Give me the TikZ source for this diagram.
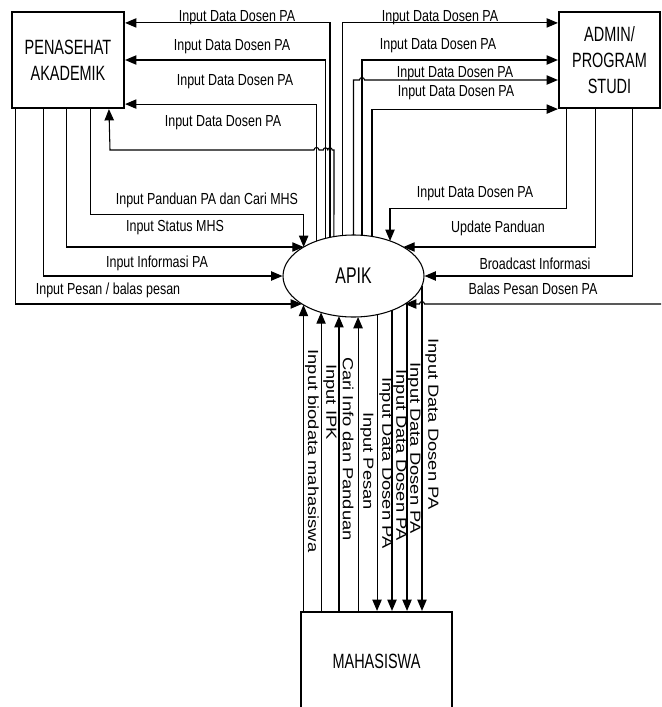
\documentclass[tikz,border=0pt]{standalone}
\usepackage{fontspec}
\setmainfont{Liberation Sans}
\newfontfamily\lblfont{Liberation Sans}[FakeStretch=0.78]
\newfontfamily\vlblfont{Liberation Sans}[FakeStretch=1.25]
\newfontfamily\entfont{Liberation Sans}[FakeStretch=0.7]
\usetikzlibrary{arrows.meta,shapes.geometric,calc}

\tikzset{
  entity/.style={draw,line width=1.6pt,minimum height=72pt,inner sep=0pt,align=center,font=\entfont\fontsize{15.5}{19.5}\selectfont},
  process/.style={ellipse,draw,line width=0.8pt,minimum width=105.75pt,minimum height=61.5pt,inner sep=0pt,font=\entfont\fontsize{17}{19}\selectfont},
  flow/.style={draw,line width=0.8pt,-{Triangle[length=8.5pt,width=7pt]}},
  hlabel/.style={inner sep=0pt,font=\lblfont\fontsize{12}{14}\selectfont},
  vlabel/.style={inner sep=0pt,rotate=-90,font=\vlblfont\fontsize{11}{13}\selectfont}
}

\begin{document}
\begin{tikzpicture}[x=0.75pt,y=0.75pt,yscale=-1,xscale=1]
\useasboundingbox (0,0) rectangle (661,707);

%Shape: Rectangle
\node[entity,minimum width=84pt] (pa) at (68,60) {PENASEHAT\\AKADEMIK};
%Shape: Rectangle
\node[entity,minimum width=75.75pt] (admin) at (609.5,60) {ADMIN/\\PROGRAM\\STUDI};
%Shape: Ellipse
\node[process] (apik) at (353.5,276) {APIK};
%Shape: Rectangle
\node[entity,minimum width=113.25pt,minimum height=73.5pt] (maha) at (376.5,661) {MAHASISWA};

% points on the ellipse
\coordinate (u1) at ($(apik.center)+(-121.7:70.5 and 41)$);
\coordinate (u2) at ($(apik.center)+(-113.4:70.5 and 41)$);
\coordinate (u3) at ($(apik.center)+(-109.5:70.5 and 41)$);
\coordinate (u4) at ($(apik.center)+(-106.1:70.5 and 41)$);
\coordinate (u5) at ($(apik.center)+(-98.6:70.5 and 41)$);
\coordinate (u6) at ($(apik.center)+(-90:70.5 and 41)$);
\coordinate (u7) at ($(apik.center)+(-83.1:70.5 and 41)$);
\coordinate (u8) at ($(apik.center)+(-74.8:70.5 and 41)$);
\coordinate (l1) at ($(apik.center)+(-135:70.5 and 41)$);
\coordinate (l4) at ($(apik.center)+(137:70.5 and 41)$);
\coordinate (r1) at ($(apik.center)+(-58.8:70.5 and 41)$);
\coordinate (r2) at ($(apik.center)+(-45:70.5 and 41)$);
\coordinate (r4) at ($(apik.center)+(43.1:70.5 and 41)$);
\coordinate (d1) at ($(apik.center)+(135.2:70.5 and 41)$);
\coordinate (d2) at ($(apik.center)+(117.4:70.5 and 41)$);
\coordinate (d3) at ($(apik.center)+(101.9:70.5 and 41)$);
\coordinate (d4) at ($(apik.center)+(86.3:70.5 and 41)$);
\coordinate (d5) at ($(apik.center)+(70.5:70.5 and 41)$);
\coordinate (d6) at ($(apik.center)+(56.9:70.5 and 41)$);
\coordinate (d7) at ($(apik.center)+(40.6:70.5 and 41)$);
\coordinate (d8) at ($(apik.center)+(13.7:70.5 and 41)$);
\coordinate (balas) at (661,304);

%Straight Lines - APIK to penasehat
\draw[flow] (u1) |- ($(pa.south east)+(0,-5)$);
\draw[flow] (u2) |- (pa.east);
\draw[flow] (u3) |- ($(pa.north east)+(0,12)$);
\draw[flow] (u4) -- (334,150) -- (332.2,150) arc[start angle=0,end angle=-180,radius=2.2] -- (327.7,150) arc[start angle=0,end angle=-180,radius=2.2] -- (319,150) arc[start angle=0,end angle=-180,radius=2.5] -- (110,150) -- ($(pa.south west)+(98,0)$);
%Straight Lines - APIK to admin
\draw[flow] (u5) |- ($(admin.north west)+(0,12)$);
\draw[flow] (u6) -- (353.5,80) -- (359.5,80) arc[start angle=180,end angle=360,radius=2.5] -- ($(admin.west)+(0,20)$);
\draw[flow] (u7) |- (admin.west);
\draw[flow] (u8) |- (admin.south west);
%Straight Lines - penasehat to APIK
\draw[flow] ($(pa.south west)+(80,0)$) -- ++(0,105) -| (l1);
\draw[flow] ($(pa.south west)+(56,0)$) |- (l1);
\draw[flow] ($(pa.south west)+(33,0)$) |- (apik.west);
\draw[flow] ($(pa.south west)+(5,0)$) |- (l4);
%Straight Lines - admin to APIK
\draw[flow] ($(admin.south west)+(9,0)$) -- ++(0,99) -| (r1);
\draw[flow] ($(admin.south west)+(38,0)$) |- (r2);
\draw[flow] ($(admin.south west)+(75,0)$) |- (apik.east);
\draw[flow] (balas) -- (424.5,304) arc[start angle=0,end angle=-180,radius=2.5] -- (r4);
%Straight Lines - mahasiswa and APIK
\draw[flow] (d1 |- maha.north) -- (d1);
\draw[flow] (d2 |- maha.north) -- (d2);
\draw[flow] (d3 |- maha.north) -- (d3);
\draw[flow] (d4 |- maha.north) -- (d4);
\draw[flow] (d5) -- (d5 |- maha.north);
\draw[flow] (d6) -- (d6 |- maha.north);
\draw[flow] (d7) -- (d7 |- maha.north);
\draw[flow] (d8) -- (d8 |- maha.north);

% Text Node
\node[hlabel] (t1) at (237,18) {Input Data Dosen PA};
\node[hlabel] (t2) at (232,47) {Input Data Dosen PA};
\node[hlabel] (t3) at (235,82) {Input Data Dosen PA};
\node[hlabel] (t4) at (223,123) {Input Data Dosen PA};
% Text Node
\node[hlabel] (t5) at (440,18) {Input Data Dosen PA};
\node[hlabel] (t6) at (438,46) {Input Data Dosen PA};
\node[hlabel] (t7) at (455,74) {Input Data Dosen PA};
\node[hlabel] (t8) at (456,93) {Input Data Dosen PA};
% Text Node
\node[hlabel] (t9) at (207,200) {Input Panduan PA dan Cari MHS};
\node[hlabel] (t10) at (175,228) {Input Status MHS};
\node[hlabel] (t11) at (157,263) {Input Informasi PA};
\node[hlabel] (t12) at (108,290) {Input Pesan / balas pesan};
% Text Node
\node[hlabel] (t13) at (475,194) {Input Data Dosen PA};
\node[hlabel] (t14) at (498,228) {Update Panduan};
\node[hlabel] (t15) at (535,264) {Broadcast Informasi};
\node[hlabel] (t16) at (533,289) {Balas Pesan Dosen PA};
% Text Node
\node[vlabel] (v1) at (312,451) {Input biodata mahasiswa};
\node[vlabel] (v2) at (330,402) {Input IPK};
\node[vlabel] (v3) at (348,449) {Cari Info dan Panduan};
\node[vlabel] (v4) at (367,461) {Input Pesan};
\node[vlabel] (v5) at (386,463) {Input Data Dosen PA};
\node[vlabel] (v6) at (400,455) {Input Data Dosen PA};
\node[vlabel] (v7) at (414,448) {Input Data Dosen PA};
\node[vlabel] (v8) at (432,424) {Input Data Dosen PA};

\end{tikzpicture}
\end{document}
